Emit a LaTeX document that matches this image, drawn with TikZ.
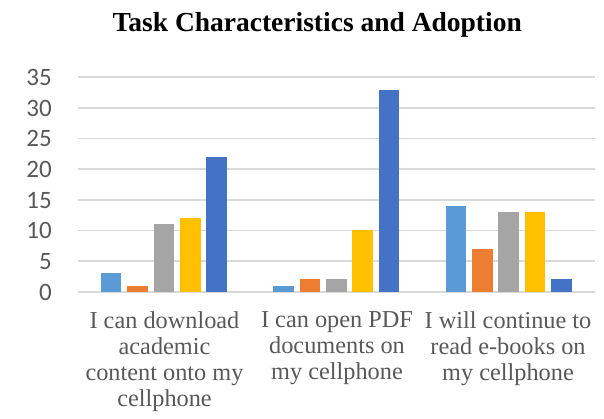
\documentclass[tikz,border=0pt]{standalone}
\usepackage{fontspec}
\setmainfont{Liberation Serif}
\newfontfamily\axisfont{Carlito}
\definecolor{cA}{HTML}{5B9BD5}
\definecolor{cB}{HTML}{ED7D31}
\definecolor{cC}{HTML}{A5A5A5}
\definecolor{cD}{HTML}{FFC000}
\definecolor{cE}{HTML}{4472C4}
\definecolor{gridc}{HTML}{D9D9D9}
\definecolor{labc}{HTML}{595959}
\tikzset{
  gridline/.style={draw=gridc, line width=1.6pt},
  ylab/.style={anchor=base east, inner sep=0pt, text=labc, font=\axisfont\fontsize{25}{25}\selectfont},
  catlab/.style={anchor=north, inner sep=0pt, align=center, text=labc, font=\fontsize{24.3}{26}\selectfont},
  titlelab/.style={anchor=base, inner sep=0pt, font=\bfseries\fontsize{27.5}{30}\selectfont},
}
\begin{document}
\begin{tikzpicture}[x=1pt,y=-1pt]
\useasboundingbox (0,0) rectangle (604,418);
\fill[white] (0,0) rectangle (604,418);
\node[titlelab] (title) at (317.2,31) {Task Characteristics and Adoption};
% gridlines and y labels
\foreach \v in {0,5,...,35}{
  \pgfmathsetmacro{\yy}{291.7-\v*6.126}
  \draw[gridline] (77.7,\yy) -- (595,\yy);
  \node[ylab] (y\v) at (52,\yy+8.3) {\v};
}
% bars
\foreach \g/\vals in {0/{3,1,11,12,22},1/{1,2,2,10,33},2/{14,7,13,13,2}}{
  \pgfmathsetmacro{\cx}{77.7+172.43*(\g+0.5)}
  \foreach \val [count=\j from 0] in \vals {
    \pgfmathsetmacro{\bx}{\cx+(\j-2)*26.4}
    \pgfmathsetmacro{\top}{291.7-\val*6.126}
    \ifcase\j \def\bc{cA}\or \def\bc{cB}\or \def\bc{cC}\or \def\bc{cD}\or \def\bc{cE}\fi
    \fill[\bc] (\bx-10.3,291.7) rectangle (\bx+10.3,\top);
  }
}
\node[catlab] (c1) at (164.5,311.7) {I can download\\academic\\content onto my\\cellphone};
\node[catlab] (c2) at (337,311.7) {I can open PDF\\documents on\\my cellphone};
\node[catlab] (c3) at (508,311.7) {I will continue to\\read e-books on\\my cellphone};
\end{tikzpicture}
\end{document}
